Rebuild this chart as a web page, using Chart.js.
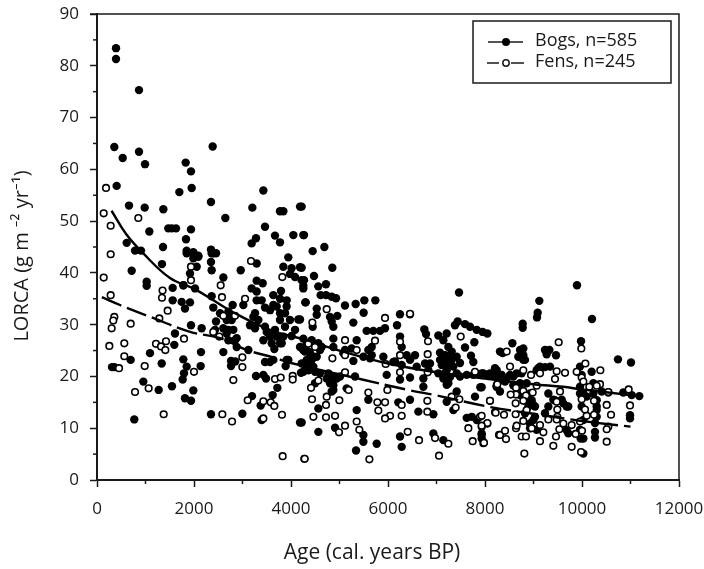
<!DOCTYPE html>
<html><head><meta charset="utf-8">
<style>html,body{margin:0;padding:0;background:#fff}#w{width:704px;height:569px;position:relative}</style>
<script src="https://cdn.jsdelivr.net/npm/chart.js@4"></script></head>
<body><div id="w"><canvas id="c" width="704" height="569"></canvas></div>
<script>
const bogAges=[392,392,866,357,2385,530,866,990,1828,1938,1952,1698,405,3430,660,983,1368,2350,3203,4186,3773,3842,2646,1079,1470,1540,1629,1938,1835,3464,3670,3773,4048,4254,3278,3189,612,784,907,1361,1849,1986,2089,2350,2454,3944,
715,1024,1024,1340,1560,1560,1780,1746,1918,1814,1938,2158,1608,1594,1093,694,309,360,1334,955,1272,1546,769,1780,1849,1794,1766,2137,2144,1986,1814,1938,2350,2997,2605,2763,2850,2763,3278,3430,3485,3718,3622,3196,3375,3395,4186,4206,3910,3890,3656,2605,2364,2350,2364,2963,3292,3292,3416,3189,3292,2364,2398,2797,2708,3017,3292,3395,3635,3794,3464,3705,3910,4303,3842,4012,4186,3979,4219,4082,4254,3223,3258,2454,2708,2880,2811,2674,3430,3635,3773,3979,4151,3808,3670,3464,4012,4254,4392,4323,
4220,4268,4447,4688,4220,4852,4268,4474,4254,4722,4563,4295,4612,4722,4839,4928,5113,5333,5512,5739,5498,5285,4530,4530,4804,4955,4873,4839,4447,4186,6247,6454,5938,5835,5698,5560,6186,6749,6784,7038,7210,7381,7437,7588,7691,7828,7952,8048,7464,7780,7588,7711,7759,7141,7244,7313,7072,7416,7484,7107,7210,7347,7141,7244,7038,7416,7622,7759,7932,8103,8241,8309,
6248,6282,5354,4873,5664,5664,5904,6110,6385,6557,6592,6866,6832,5286,5114,4873,4564,4427,4598,4461,4358,4255,4427,4255,4495,4598,4736,4873,5011,5320,4873,4839,5148,4564,5354,5973,6248,6454,6729,6729,5595,6213,6454,6626,6935,7348,7210,7416,7794,4908,4564,4220,5492,5492,5767,5341,6248,6282,6935,7141,7623,7726,7932,7829,7904,8241,
9897,9120,9086,9072,8777,8777,10206,8564,9980,10742,11010,11182,8364,8790,8790,8687,8825,9237,9327,9464,9271,9134,9237,9065,8206,7966,8138,8447,8584,8756,8859,7931,8241,8309,8584,8928,8997,9306,10199,9993,10234,10406,10543,10852,11024,10990,10990,10268,10268,9973,9718,9615,9237,9031,8928,9684,10028,10303,10303,7931,7931,9959,10028,8722,8413,
1849,1987,2090,1987,2056,1918,2399,1781,2021,2537,2708,2777,2434,2605,2674,2708,2846,2880,3121,3155,3258,3327,3499,3568,3602,3705,3774,3843,3877,3774,3911,3774,3636,3568,3877,4083,4255,4324,3636,3568,3464,3946,4220,4289,
4186,4289,4323,4427,4530,4633,4461,4358,4495,4770,4839,4873,4942,4805,5079,5251,5492,5595,5629,6145,6282,6454,6763,7073,7176,7210,7279,7244,7313,7176,7279,7210,7485,7897,8207,
8722,8790,8516,8653,8344,8034,8275,8722,8756,8928,8894,9031,8825,8997,8928,9306,9409,9684,9581,9959,9993,10096,10234,10303,10303,10268,10028,9959,10028,9718,9065,8962,9100,9340,9959,9443];
const bogValues=[83.4,81.3,75.3,64.3,64.4,62.2,63.4,61,61.3,59.6,56.4,55.6,56.8,55.9,53,52.6,52.3,53.7,52.6,52.8,51.9,51.9,50.6,48,48.6,48.6,48.6,48.4,46.5,48.9,47.2,45.9,47.3,47.3,46.7,45.7,45.8,44.3,44.3,45,44.3,44,43.3,44.5,43.8,43,
40.4,38.3,37.5,41.7,37.1,34.7,37.6,34.4,34.3,33.1,29.9,29.3,28.3,26.1,24.5,23.2,21.8,21.8,22.5,19,17.4,18.1,11.7,23.3,21.9,20.6,19.4,22,24.7,17.3,15.8,15.3,12.7,12.8,24.7,23,22.9,22,20.1,20.3,19.6,17.8,16.4,16.2,14.4,11.6,11.1,20.7,23.2,22,25.3,39.1,40.5,42.1,43.8,40.5,41.8,38.5,38,37,36.4,35.5,33.3,33.8,32.5,33.8,34.7,34.7,35.7,36.5,33.3,33.5,33.5,34.3,41.2,40.9,41.1,39.8,38.6,39.2,37.5,31.5,29.3,30.6,29,27.4,29,30.9,27,28.3,30.9,30.9,31,26.4,29,29.6,27.8,25.1,24.5,22.2,
52.8,47.3,44.2,45,41,41,38.6,39.4,37,37.8,37.4,34.3,35.7,35.7,35.4,35.1,33.7,34,34.7,34.7,32.3,30.4,33.1,31.9,31.5,31.7,29.6,30.6,29.6,31,32,32,29.3,28.8,28.8,28.8,29.9,29.1,28.2,27.9,28.3,29.9,30.6,30.1,29.6,29,28.6,28.3,36.2,26.6,25.6,24,22.8,27,25.7,24.8,24.6,23.8,22.6,22.2,21.2,21.9,19.6,18.7,20.6,20.6,20.3,20.3,20.6,20.6,21.2,24.8,
27.7,25.7,27,27.3,25.7,24.1,23.8,22.8,24.1,24.1,21.9,22.5,21.2,23,25.1,25.7,26.4,27,25.1,23.8,24.8,25.1,21.9,20.9,20.9,20.6,19.6,20,20,20,18.3,17.1,17.7,13.8,13.5,20.3,19.4,19.8,19.6,18,15.5,15,15.5,13.2,12.7,13.5,15.1,17.1,16.1,10.1,9.3,11.1,8.7,7.4,7,5.7,8.4,6.4,9,7.7,12,12.2,8.7,11.6,17.9,18,
37.6,34.6,32.3,31.4,30.2,29.4,31.1,26.4,26.8,23.3,22.7,16.2,24.5,25.4,24.1,23.8,23.2,25.1,25.1,24.1,24.3,21.9,21.8,21.2,21.6,20.6,20.3,19.6,20,20.6,18.7,17.9,18,17.1,18.3,15.4,14.5,16.7,20.9,20.3,18.7,17.1,16.9,16.9,16.4,12.5,11.9,9.3,8.2,8,14.2,14.8,12.9,12.2,10.9,9.6,5.1,14.2,12.2,9,8,18,16.7,16.4,19,
43.8,43.8,43.1,42.8,41.2,39.9,43.8,37.6,37,32.2,31.5,30.9,29,29.3,28.3,27,27,25.7,25.1,29.9,32.2,30.9,28.6,27.7,26.4,27.7,26.4,27.7,29.6,32.2,34.7,35,33.8,32.8,32.2,29,27.3,26.4,23.2,22.8,22.8,23.2,22.5,22.2,
25.7,24.8,23.2,23.2,23.8,25.7,21.9,21.2,18.7,20.6,19.3,17.4,19.6,18.7,24.5,25.4,23.8,25.1,23.5,22.9,22.2,23.2,22.5,23.2,24.1,23.2,23.8,22.5,23.2,20.6,19.9,18.4,20,20.3,20,
25.1,23.2,20.3,20.6,20.3,20.3,19,18.7,17.4,16.7,14.2,14.2,12.9,11.6,10,14.2,15.5,14.2,15.5,16.7,14.2,16.1,16.7,15.4,13.5,11,11.6,9.7,8,9,9.7,15.4,21.6,21.9,21.9,15.4];
const fenAges=[186,138,282,852,282,3175,138,282,357,336,302,254,454,563,563,694,983,784,1065,1352,1340,1457,1285,1216,1320,1423,1409,1794,2000,1375,2584,2784,2811,2997,2997,3107,3430,3581,3656,3430,3814,3670,3787,4035,4035,3828,4275,1938,1938,2550,2577,3052,2605,2845,2398,2522,3821,
5939,6454,7499,6825,6248,5732,5114,4736,4440,4358,4495,5114,5354,4853,6248,6818,5952,6248,6818,5114,4564,4413,4433,4736,5189,4997,4722,4461,4722,4908,5595,5987,5781,5939,5801,6042,5939,6282,6282,6811,6811,5354,5114,5409,4990,6406,6640,6970,7244,7052,5616,4282,7794,8241,7313,7471,7395,8103,8207,7897,8049,7932,7657,7746,7966,8289,
9519,9986,8447,10069,10378,8516,8790,9478,9650,9890,8949,9134,9443,9993,10028,8254,8639,8639,8529,8790,8845,8983,9065,9547,9478,9491,9491,10371,10151,10303,10543,10962,10509,10247,10990,10598,10247,10096,10062,9993,8632,8103,8790,7931,8220,8392,8632,8859,8790,9134,9306,9478,9615,9787,9959,10000,10543,10509,8048,7931,8309,8413,8433,8639,8756,8845,8962,8653,9203,9533,9134,9464,9869,9409,9787,9980,10509,8811,7979];
const fenValues=[56.4,51.5,49.1,50.6,43.6,42.3,39.1,35.7,31.5,30.8,29.3,25.9,21.6,26.4,23.9,30.2,22,17,17.7,36.6,35.2,32.7,31.2,26.3,25.8,26.8,25.1,27.3,20.9,12.7,12.7,11.3,19.3,21.8,23.7,15.4,15.2,15,14.3,11.9,12.6,19.5,19.8,20.1,19.4,4.6,4.1,41.2,38.6,37.6,35.3,35,31.7,31.7,28.6,27.7,39.2,
31.3,32.1,27.7,26.8,26.7,26.9,27,33,30.4,26.3,25.7,24.1,25.1,23.5,24.1,24.3,22.4,20.8,20.8,20.8,19.2,17.8,15.6,16.1,17.4,15.4,14.5,12.2,12.1,12.4,16.9,17.4,15,15,13.4,12.4,11.9,14.5,12.4,15.3,13.2,11.3,10.5,9.7,9.2,9.3,7.7,8.1,7,4.7,4,4.1,20.9,18.3,16.1,15.6,14,15.3,13.1,12.2,10.9,10.3,10,7.5,7.1,8.7,
26.6,25.4,24.8,22.5,21.2,21.9,21.2,21,20.7,20.9,20.3,20.6,19.5,19.8,19,18.5,17.8,16.5,16.5,17.2,16.3,16.9,18.2,17.1,15.1,13.6,12.2,18.5,18,18.2,17,17.5,14.5,15.3,14.4,12.6,12.6,12.4,13.6,15.6,14.8,15.3,15.3,12.4,13,12.6,12.7,13.5,11.4,10.6,11.7,11.7,10.9,10.6,11.3,9.5,10.3,9.8,11,10.5,8.7,9.5,7.9,10,8.4,8.4,10,10.5,9.2,9.8,7.5,8.4,8.9,6.6,6.4,5.4,7.4,5.1,7.2];
const bogFitAges=[300,600,950,1505,1986,2398,2845,3567,4323,5000,6000,7000,8000,9000,9608,10000,11000];
const bogFitValues=[52,47.5,43.8,39,37,34.7,32.2,29,27,25,22.5,20.8,19.6,18.5,18,17.5,16.4];
const fenFitAges=[100,474,1155,1918,2536,3093,3629,4000,5423,6412,6969,8103,9000,10000,11000];
const fenFitValues=[35.3,33.8,31.3,28.6,27.4,25.1,23.7,22.6,19.5,17.4,16.4,14.1,12.8,11.4,10.3];
const seriesNames=['Bogs, n=585','Fens, n=245'];
const axisTitles=['Age (cal. years BP)','LORCA (g m \u207B\u00B2 yr\u207B\u00B9)'];
const zip=(a,b)=>a.map((x,i)=>({x,y:b[i]}));
const FONT='"Open Sans","Noto Sans",sans-serif';
const INK='#1a1a1a';
const frame={id:'frame',afterDraw(ch){
  const {ctx,chartArea:a,scales:{x,y}}=ch;ctx.save();
  ctx.strokeStyle=INK;ctx.lineWidth=1.5;
  ctx.beginPath();ctx.moveTo(a.left-7,a.top);ctx.lineTo(a.right,a.top);ctx.lineTo(a.right,a.bottom);ctx.stroke();
  for(let v=5;v<90;v+=10){const p=y.getPixelForValue(v);ctx.beginPath();ctx.moveTo(a.left-4,p);ctx.lineTo(a.left,p);ctx.stroke();}
  for(let v=1000;v<12000;v+=2000){const p=x.getPixelForValue(v);ctx.beginPath();ctx.moveTo(p,a.bottom);ctx.lineTo(p,a.bottom+4);ctx.stroke();}
  const L=473,T=21,R=671,B=83;
  ctx.fillStyle='#fff';ctx.fillRect(L,T,R-L,B-T);
  ctx.strokeStyle=INK;ctx.lineWidth=1.5;ctx.strokeRect(L,T,R-L,B-T);
  const rows=[[42,true],[63,false]];
  rows.forEach(([py,solid],i)=>{
    ctx.lineWidth=1.6;ctx.beginPath();
    if(solid){ctx.moveTo(488,py);ctx.lineTo(523,py);}else{ctx.moveTo(487,py);ctx.lineTo(499,py);ctx.moveTo(511,py);ctx.lineTo(524,py);}
    ctx.stroke();
    ctx.beginPath();ctx.arc(506,py,solid?4:3.2,0,7);
    if(solid){ctx.fillStyle='#000';ctx.fill();}else{ctx.fillStyle='#fff';ctx.fill();ctx.lineWidth=1.5;ctx.stroke();}
    ctx.fillStyle=INK;ctx.font='18px '+FONT;ctx.textBaseline='middle';ctx.textAlign='left';
    ctx.fillText(seriesNames[i],535,py-1);
  });
  ctx.fillStyle=INK;ctx.font='21px '+FONT;ctx.textAlign='center';ctx.textBaseline='middle';
  ctx.fillText(axisTitles[0],372,553);
  ctx.translate(22,256);ctx.rotate(-Math.PI/2);ctx.font='20px '+FONT;
  ctx.fillText(axisTitles[1],0,0);
  ctx.restore();
}};
new Chart(document.getElementById('c'),{
 type:'scatter',
 data:{datasets:[
  {label:'Bogs fit',type:'line',data:zip(bogFitAges,bogFitValues),borderColor:'#000',borderWidth:2.4,pointRadius:0,tension:.4,fill:false,order:1},
  {label:'Fens fit',type:'line',data:zip(fenFitAges,fenFitValues),borderColor:'#000',borderWidth:2.4,borderDash:[21,6],pointRadius:0,tension:.4,fill:false,order:2},
  {label:seriesNames[1],data:zip(fenAges,fenValues),pointRadius:3.3,pointBorderWidth:1.6,pointBackgroundColor:'#fff',pointBorderColor:'#000',order:3},
  {label:seriesNames[0],data:zip(bogAges,bogValues),pointRadius:4.2,pointBorderWidth:0,pointBackgroundColor:'#000',pointBorderColor:'#000',order:4}
 ]},
 options:{responsive:false,animation:false,
  layout:{padding:{left:0,right:25,top:14,bottom:0}},
  plugins:{legend:{display:false},tooltip:{enabled:false}},
  scales:{
   x:{type:'linear',min:0,max:12000,afterFit(s){s.height=89;s.paddingRight=0;s.paddingLeft=0;},
    ticks:{stepSize:2000,color:INK,font:{family:FONT,size:17},padding:12,maxRotation:0,autoSkip:false,callback:v=>String(v)},
    grid:{drawOnChartArea:false,tickLength:7,tickColor:INK,tickWidth:1.5},
    border:{color:INK,width:2}},
   y:{type:'linear',min:0,max:90,afterFit(s){s.width=97;s.paddingTop=0;s.paddingBottom=0;},
    ticks:{stepSize:10,color:INK,font:{family:FONT,size:17},padding:11},
    grid:{drawOnChartArea:false,tickLength:7,tickColor:INK,tickWidth:1.5},
    border:{color:INK,width:2}}
  }},
 plugins:[frame]
});
</script></body></html>
